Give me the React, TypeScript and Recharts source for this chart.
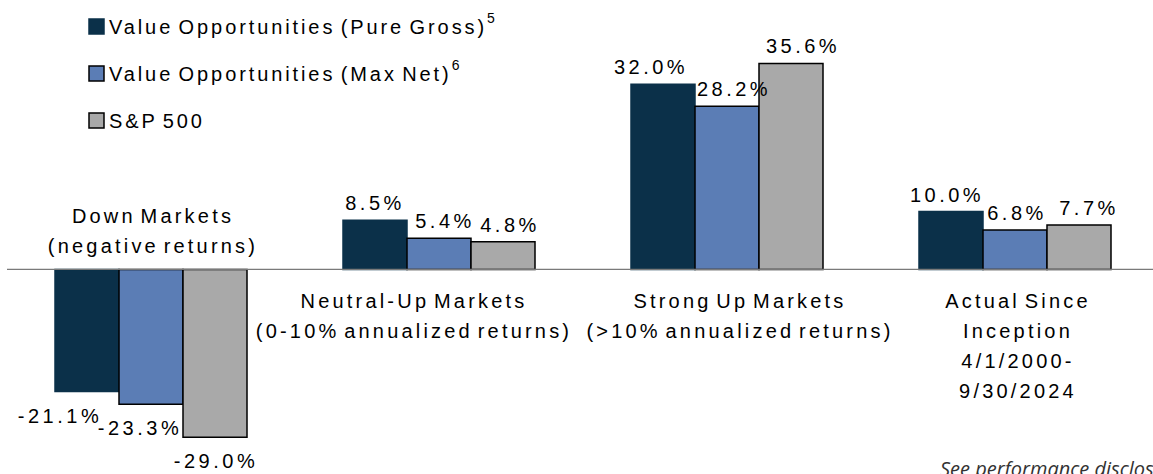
import React from "react";
import { BarChart, Bar, XAxis, YAxis, ReferenceLine, ReferenceDot, LabelList, Legend } from "recharts";

const categories = ["Down Markets", "Neutral-Up Markets", "Strong Up Markets", "Actual Since Inception"];
const categoryLabelLines = [
  ["Down Markets", "(negative returns)"],
  ["Neutral-Up Markets", "(0-10% annualized returns)"],
  ["Strong Up Markets", "(>10% annualized returns)"],
  ["Actual Since", "Inception", "4/1/2000-", "9/30/2024"],
];
const pureGross = [-21.1, 8.5, 32.0, 10.0];
const maxNet = [-23.3, 5.4, 28.2, 6.8];
const sp500 = [-29.0, 4.8, 35.6, 7.7];
const seriesKeys = ["pureGross", "maxNet", "sp500"];
const seriesNames = ["Value Opportunities (Pure Gross)", "Value Opportunities (Max Net)", "S&P 500"];
const seriesFootnotes = ["5", "6", ""];
const footerText = "See performance disclosures";

// styling
const seriesColors = ["#0B3049", "#5B7DB5", "#A9A9A9"];
const seriesStrokes = ["#0B3049", "#000000", "#000000"];
// horizontal label nudges (px) used to avoid label collisions, like the original
const valueLabelNudge = [
  [-27, 0, -12, -4],
  [-11, 6, 7, 2],
  [1, 7, 12, 10],
];
const categoryLabelNudge = [2, -25, 13, 3];

const data = categories.map((c, i) => ({
  category: c,
  pureGross: pureGross[i],
  maxNet: maxNet[i],
  sp500: sp500[i],
}));

const FONT = "'Liberation Sans', Arial, sans-serif";

const makeValueLabel = (seriesIndex: number) => (props: any) => {
  const { x, y, width, height, value, index } = props;
  const top = Math.min(y, y + height);
  const bottom = Math.max(y, y + height);
  const cx = x + width / 2 + (valueLabelNudge[seriesIndex][index] || 0);
  const ty = value >= 0 ? top - 10 : bottom + 31;
  return (
    <text x={cx} y={ty} textAnchor="middle" fontFamily={FONT} fontSize={20} letterSpacing={3.5} fill="#000">
      {`${Number(value).toFixed(1)}%`}
    </text>
  );
};

const makeCategoryLabel = (index: number) => (props: any) => {
  const vb = props.viewBox || {};
  const cx = vb.x + (vb.width || 0) / 2 + categoryLabelNudge[index];
  const cy = vb.y + (vb.height || 0) / 2;
  const lines = categoryLabelLines[index];
  const above = pureGross[index] < 0;
  const spacing = 30;
  const firstBaseline = above ? cy - 16.5 - spacing * (lines.length - 1) : cy + 38.5;
  return (
    <text textAnchor="middle" fontFamily={FONT} fontSize={20} letterSpacing={3.2} wordSpacing={-4} fill="#000">
      {lines.map((l, k) => (
        <tspan key={k} x={cx} y={firstBaseline + k * spacing}>
          {l}
        </tspan>
      ))}
    </text>
  );
};

const renderLegend = () => (
  <svg width={540} height={140}>
    {seriesNames.map((name, i) => {
      const baseline = 34 + i * 47;
      return (
        <g key={name}>
          <rect x={89} y={baseline - 15} width={15} height={15} fill={seriesColors[i]} stroke={i === 0 ? "#0B3049" : "#000"} strokeWidth={1.5} />
          <text x={109} y={baseline} fontFamily={FONT} fontSize={20} letterSpacing={2.9} wordSpacing={-3} fill="#000">
            {name}
            {seriesFootnotes[i] ? (
              <tspan dx={0} dy={-11} fontSize={14} letterSpacing={0}>
                {seriesFootnotes[i]}
              </tspan>
            ) : null}
          </text>
        </g>
      );
    })}
  </svg>
);

export default function App() {
  return (
    <div style={{ position: "absolute", left: 0, top: 0, width: 1153, height: 474, overflow: "hidden", background: "#fff" }}>
      <BarChart
        width={1160}
        height={474}
        data={data}
        margin={{ top: 38, right: 1, bottom: 2, left: 7 }}
        barCategoryGap={48}
        barGap={0}
      >
        <XAxis dataKey="category" hide />
        <YAxis hide domain={[-35, 40]} type="number" allowDataOverflow />
        <Legend
          content={renderLegend}
          layout="horizontal"
          verticalAlign="middle"
          align="center"
          wrapperStyle={{ left: 0, top: 0, width: 540, height: 140 }}
        />
        <ReferenceLine y={0} stroke="#7A7A7A" strokeWidth={1.2} ifOverflow="extendDomain" />
        {seriesKeys.map((k, i) => (
          <Bar
            key={k}
            dataKey={k}
            name={seriesNames[i]}
            fill={seriesColors[i]}
            stroke={seriesStrokes[i]}
            strokeWidth={1.5}
            isAnimationActive={false}
          >
            <LabelList dataKey={k} content={makeValueLabel(i)} />
          </Bar>
        ))}
        {categories.map((c, i) => (
          <ReferenceDot key={c} x={c} y={0} r={0.5} fill="none" stroke="none" label={makeCategoryLabel(i)} />
        ))}
      </BarChart>
      <div
        style={{
          position: "absolute",
          left: 940,
          top: 455,
          fontFamily: "'Open Sans', sans-serif",
          fontStyle: "italic",
          fontSize: 20,
          color: "#333",
          whiteSpace: "nowrap",
        }}
      >
        {footerText}
      </div>
    </div>
  );
}
